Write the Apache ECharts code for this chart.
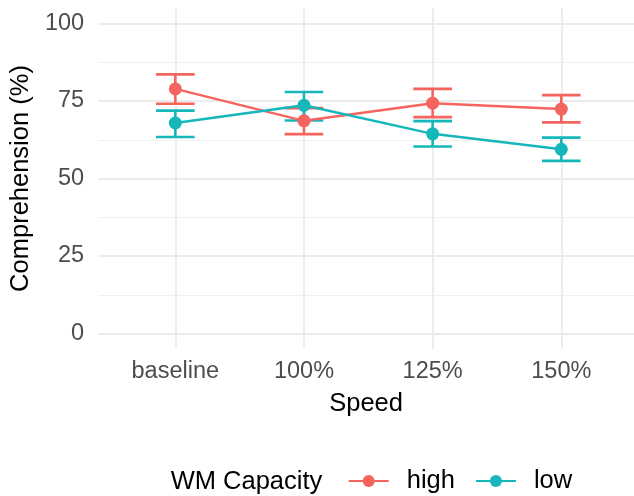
<!DOCTYPE html>
<html>
<head>
<meta charset="utf-8">
<script src="https://cdn.jsdelivr.net/npm/echarts@6/dist/echarts.min.js"></script>
<style>
  html, body { margin: 0; padding: 0; background: #ffffff; }
  #chart { width: 634px; height: 496px; }
</style>
</head>
<body>
<div id="chart"></div>
<script>
// Comprehension by playback speed, split by working-memory capacity
const categories = ['baseline', '100%', '125%', '150%'];
const yTicks = [0, 25, 50, 75, 100];
const yMinorTicks = [12.5, 37.5, 62.5, 87.5];

const highMean  = [78.9, 68.6, 74.3, 72.4];
const highLower = [74.1, 64.3, 69.8, 68.1];
const highUpper = [83.6, 72.7, 78.9, 76.9];

const lowMean  = [67.9, 73.6, 64.4, 59.4];
const lowLower = [63.4, 68.7, 60.3, 55.7];
const lowUpper = [71.9, 77.9, 68.5, 63.2];

const RED = '#F5645E';
const TEAL = '#15B7BB';
const FONT = '"Liberation Sans", Arial, Helvetica, sans-serif';

const catPos = categories.map((c, i) => i + 1);

function pointData(values) {
  return values.map((v, i) => [catPos[i], v]);
}
function barData(lower, upper) {
  return lower.map((lo, i) => [catPos[i], lo, upper[i]]);
}

function errorBarSeries(name, lower, upper, color) {
  return {
    name: name,
    type: 'custom',
    data: barData(lower, upper),
    encode: { x: 0, y: [1, 2] },
    z: 3,
    silent: true,
    renderItem: function (params, api) {
      const x = api.value(0);
      const lo = api.coord([x, api.value(1)]);
      const hi = api.coord([x, api.value(2)]);
      const half = api.coord([x + 0.15, api.value(1)])[0] - lo[0];
      const style = { stroke: color, lineWidth: 2.6, fill: null };
      return {
        type: 'group',
        children: [
          { type: 'line', shape: { x1: lo[0], y1: lo[1], x2: hi[0], y2: hi[1] }, style: style },
          { type: 'line', shape: { x1: lo[0] - half, y1: lo[1], x2: lo[0] + half, y2: lo[1] }, style: style },
          { type: 'line', shape: { x1: hi[0] - half, y1: hi[1], x2: hi[0] + half, y2: hi[1] }, style: style }
        ]
      };
    }
  };
}

function meanSeries(name, values, color) {
  return {
    name: name,
    type: 'line',
    data: pointData(values),
    symbol: 'circle',
    symbolSize: 13,
    z: 4,
    itemStyle: { color: color },
    lineStyle: { color: color, width: 2.5 },
    emphasis: { disabled: true }
  };
}

const chart = echarts.init(document.getElementById('chart'), null, { renderer: 'canvas' });

chart.setOption({
  backgroundColor: '#ffffff',
  animation: false,
  textStyle: { fontFamily: FONT },
  // plot panel runs off the right edge of the canvas, so the x range is cut at 4.565
  grid: { left: 97.5, top: 8, right: 0, height: 341, containLabel: false },
  xAxis: {
    type: 'value',
    min: 0.4,
    max: 4.565,
    name: 'Speed',
    nameLocation: 'middle',
    nameGap: 42,
    nameTextStyle: { color: '#000000', fontSize: 25.5, fontFamily: FONT },
    axisLine: { show: false },
    axisTick: { show: false, customValues: catPos },
    axisLabel: {
      customValues: catPos,
      margin: 11,
      color: '#4D4D4D',
      fontSize: 23.5,
      fontFamily: FONT,
      formatter: function (v) { return categories[Math.round(v) - 1]; }
    },
    splitLine: { show: true, lineStyle: { color: '#EBEBEB', width: 1.8 } }
  },
  yAxis: [
    {
      type: 'value',
      min: -5,
      max: 105,
      name: 'Comprehension (%)',
      nameLocation: 'middle',
      nameGap: 61,
      nameTextStyle: { color: '#000000', fontSize: 25.5, fontFamily: FONT },
      axisLine: { show: false },
      axisTick: { show: false, customValues: yTicks },
      axisLabel: {
        customValues: yTicks,
        margin: 14,
        color: '#4D4D4D',
        fontSize: 23.5,
        fontFamily: FONT
      },
      splitLine: { show: true, lineStyle: { color: '#EBEBEB', width: 1.8 } }
    },
    {
      type: 'value',
      min: -5,
      max: 105,
      position: 'left',
      axisLine: { show: false },
      axisTick: { show: false, customValues: yMinorTicks },
      axisLabel: { show: false, customValues: yMinorTicks },
      splitLine: { show: true, lineStyle: { color: '#EFEFEF', width: 1 } }
    }
  ],
  legend: {
    data: ['high', 'low'],
    left: 342.7,
    top: 463,
    orient: 'horizontal',
    itemWidth: 40,
    itemHeight: 15,
    itemGap: 20,
    selectedMode: false,
    textStyle: { color: '#000000', fontSize: 25.5, fontFamily: FONT, padding: [0, 0, 0, 13] }
  },
  graphic: [
    {
      type: 'text',
      left: 170.7,
      top: 469,
      style: { text: 'WM Capacity', fill: '#000000', font: '25.5px ' + FONT }
    }
  ],
  series: [
    meanSeries('high', highMean, RED),
    errorBarSeries('high', highLower, highUpper, RED),
    meanSeries('low', lowMean, TEAL),
    errorBarSeries('low', lowLower, lowUpper, TEAL)
  ]
});
</script>
</body>
</html>
